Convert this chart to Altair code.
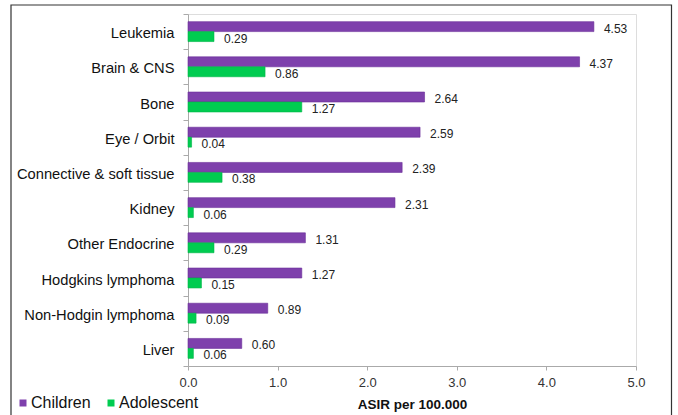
import altair as alt
import pandas as pd

categories = ["Leukemia", "Brain & CNS", "Bone", "Eye / Orbit", "Connective & soft tissue",
              "Kidney", "Other Endocrine ", "Hodgkins lymphoma", "Non-Hodgin lymphoma", "Liver"]
children = [4.53, 4.37, 2.64, 2.59, 2.39, 2.31, 1.31, 1.27, 0.89, 0.60]
adolescent = [0.29, 0.86, 1.27, 0.04, 0.38, 0.06, 0.29, 0.15, 0.09, 0.06]
groups = ["Children", "Adolescent"]
colors = ["#7E40AC", "#00CC50"]
x_ticks = [0, 1, 2, 3, 4, 5]

rows = []
for c, v1, v2 in zip(categories, children, adolescent):
    rows.append({"category": c, "group": "Children", "value": v1})
    rows.append({"category": c, "group": "Adolescent", "value": v2})
df = pd.DataFrame(rows)

FONT = "Liberation Sans"

y_enc = alt.Y("category:N", sort=categories,
              scale=alt.Scale(paddingInner=0, paddingOuter=0),
              axis=alt.Axis(title=None, tickBand="extent", tickSize=5, labelPadding=9,
                            labelFontSize=14.7, labelColor="#111", labelFont=FONT,
                            labelOffset=2,
                            domainColor="#aaaaaa", tickColor="#aaaaaa", grid=False))
yoff_enc = alt.YOffset("group:N", sort=groups,
                       scale=alt.Scale(paddingOuter=0.765, paddingInner=0))
x_enc = alt.X("value:Q", scale=alt.Scale(domain=[0, 5], nice=False),
              axis=alt.Axis(values=x_ticks, format=".1f", title="ASIR per 100.000",
                            grid=False, tickSize=4, labelPadding=6, labelFontSize=13,
                            labelFlush=False,
                            labelColor="#333", labelFont=FONT, titleFont=FONT,
                            titleFontSize=13.5, titleFontWeight="bold", titleColor="#111",
                            titlePadding=8, domainColor="#aaaaaa", tickColor="#aaaaaa"))

bars = alt.Chart(df).mark_bar(strokeWidth=0.6).encode(
    x=x_enc,
    y=y_enc,
    yOffset=yoff_enc,
    color=alt.Color("group:N", sort=groups,
                    scale=alt.Scale(domain=groups, range=colors),
                    legend=alt.Legend(title=None, orient="none", direction="horizontal",
                                      legendX=-173, legendY=381, symbolType="square",
                                      symbolSize=49, labelFontSize=16, labelFont=FONT,
                                      labelColor="#111", labelOffset=0, columnPadding=12,
                                      symbolStrokeWidth=0, padding=0)),
    stroke=alt.Color("group:N", sort=groups,
                     scale=alt.Scale(domain=groups, range=["#6A2E99", "#00B548"]),
                     legend=None),
)

labels = alt.Chart(df).mark_text(align="left", baseline="middle", dx=10, dy=2,
                                 fontSize=12, font=FONT, color="#222").encode(
    x="value:Q",
    y=alt.Y("category:N", sort=categories),
    yOffset=alt.YOffset("group:N", sort=groups),
    text=alt.Text("value:Q", format=".2f"),
)

border = alt.Chart(alt.Data(values=[{"a": 1}])).mark_rect(
    fill="transparent", stroke="#333333", strokeWidth=1.2).encode(
    x=alt.value(-177), x2=alt.value(483.5), y=alt.value(-9), y2=alt.value(420))

chart = alt.layer(bars, labels, border).properties(
    width=448, height=352,
    autosize=alt.AutoSizeParams(type="none"),
    padding={"left": 188, "top": 14, "right": 42, "bottom": 49},
).configure_view(stroke=None).configure(background="white")

chart.save("out.html", embed_options={"renderer": "svg", "actions": False})
